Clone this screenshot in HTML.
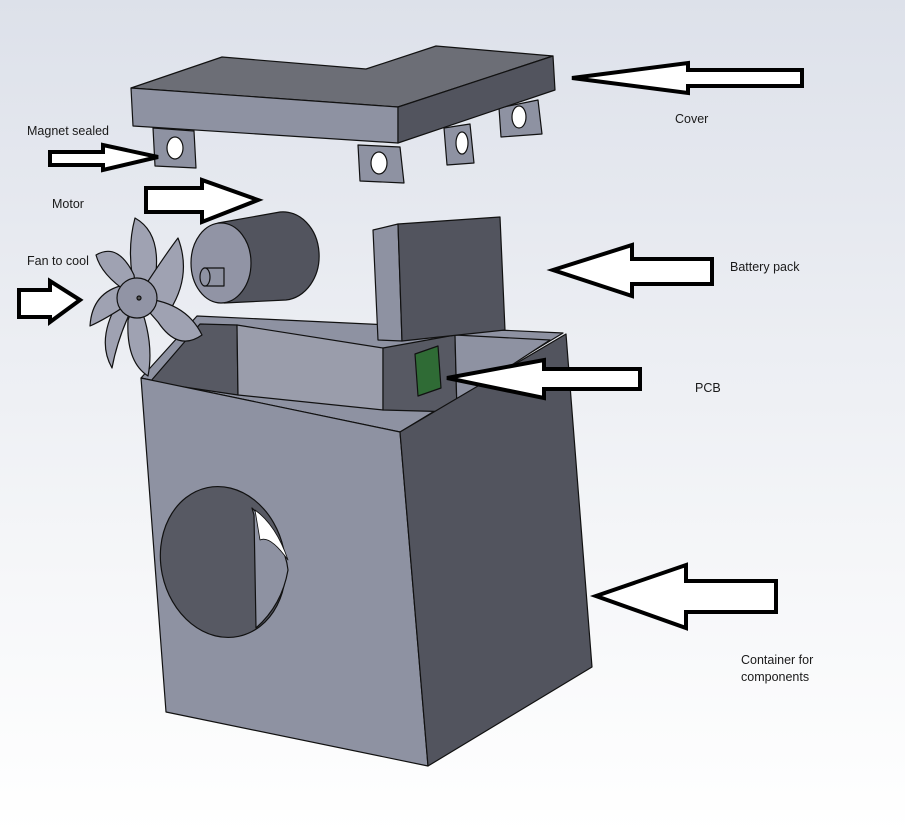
<!DOCTYPE html>
<html><head><meta charset="utf-8"><style>
html,body{margin:0;padding:0;width:905px;height:834px;overflow:hidden}
svg{display:block}
text{font-family:"Liberation Sans",sans-serif;font-size:12.5px;fill:#1a1a1a}
</style></head><body>
<svg width="905" height="834" viewBox="0 0 905 834" xmlns="http://www.w3.org/2000/svg">
<defs>
<linearGradient id="bg" x1="0" y1="0" x2="0" y2="1">
<stop offset="0" stop-color="#dde1ea"/><stop offset="0.7" stop-color="#f6f7f9"/><stop offset="1" stop-color="#ffffff"/>
</linearGradient>
</defs>
<rect width="905" height="834" fill="url(#bg)"/>
<g stroke="#111" stroke-width="1.2" stroke-linejoin="round">
<polygon points="153,128 194,131 196,168 155,166" fill="#8e92a2"/>
<ellipse cx="175" cy="148" rx="8" ry="11" fill="#fff"/>
<polygon points="358,145 400,147 404,183 360,181" fill="#8e92a2"/>
<ellipse cx="379" cy="163" rx="8" ry="11" fill="#fff"/>
<polygon points="444,128 470,124 474,163 447,165" fill="#8e92a2"/>
<ellipse cx="462" cy="143" rx="6" ry="11" fill="#fff"/>
<polygon points="499,108 538,100 542,134 501,137" fill="#8e92a2"/>
<ellipse cx="519" cy="117" rx="7" ry="11" fill="#fff"/>
<polygon points="131,88 222,57 366,69 436,46 553,56 398,107" fill="#6c6e76"/>
<polygon points="131,88 398,107 398,143 133,126" fill="#8e92a2"/>
<polygon points="398,107 553,56 555,90 398,143" fill="#52545e"/>
<polygon points="141,378 197,316 563,333 400,432" fill="#8e92a2"/>
<polygon points="150,382 200,324 237,325 238,395" fill="#575963"/>
<polygon points="237,325 383,348 383,410 238,395" fill="#9a9dab"/>
<polygon points="383,348 455,335 457,412 383,410" fill="#575963"/>
<polygon points="455,335 550,340 440,412 457,412" fill="#8e92a2"/>
<polygon points="415,354 438,346 441,388 418,396" fill="#2f6b35"/>
<polygon points="141,378 400,432 428,766 166,712" fill="#8e92a2"/>
<polygon points="400,432 566,334 592,667 428,766" fill="#52545e"/>
<ellipse cx="223" cy="562" rx="62" ry="76" transform="rotate(-12 223 562)" fill="#575963"/>
<path d="M252,508 Q285,540 288,570 Q282,605 256,628 L254,515 Z" fill="#8e92a2"/>
<path d="M255,510 Q276,525 288,560 Q270,535 260,540 Z" fill="#fff" stroke-width="0.8"/>
<polygon points="373,230 398,224 402,341 378,340" fill="#8e92a2"/>
<polygon points="398,224 500,217 505,330 402,341" fill="#52545e"/>
<path d="M218,223 L280,212 A36,44 0 0 1 286,300 L224,303 Z" fill="#52545e"/>
<ellipse cx="221" cy="263" rx="30" ry="40" fill="#9194a5"/>
<rect x="204" y="268" width="20" height="18" fill="#8e92a2"/>
<ellipse cx="205" cy="277" rx="5" ry="9" fill="#8e92a2"/>
<g fill="#9fa2b2">
<path d="M137,298 Q125,255 135,218 Q160,232 156,272 Z"/>
<path d="M137,298 Q165,255 178,238 Q192,275 170,310 Z"/>
<path d="M137,298 Q185,300 202,335 Q178,352 158,322 Z"/>
<path d="M137,298 Q155,340 148,376 Q126,362 128,320 Z"/>
<path d="M137,298 Q118,335 112,368 Q96,340 118,302 Z"/>
<path d="M137,298 Q108,318 90,326 Q92,292 124,285 Z"/>
<path d="M137,298 Q102,278 96,255 Q118,242 134,275 Z"/>
</g>
<circle cx="137" cy="298" r="20" fill="#9194a5"/>
<circle cx="139" cy="298" r="2" fill="#555"/>
</g>
<g fill="#fff" stroke="#000" stroke-width="4" stroke-linejoin="miter">
<polygon points="572,78 688,63 688,70 802,70 802,86 688,86 688,93"/>
<polygon points="158,157 103,145 103,152 50,152 50,165 103,165 103,170"/>
<polygon points="258,200 202,180 202,188 146,188 146,212 202,212 202,222"/>
<polygon points="80,300 50,281 50,290 19,290 19,317 50,317 50,322"/>
<polygon points="553,270 632,245 632,259 712,259 712,284 632,284 632,296"/>
<polygon points="447,378 544,360 544,369 640,369 640,389 544,389 544,398"/>
<polygon points="596,596 686,565 686,581 776,581 776,612 686,612 686,628"/>
</g>
<text x="27" y="135">Magnet sealed</text>
<text x="52" y="208">Motor</text>
<text x="27" y="265">Fan to cool</text>
<text x="675" y="123">Cover</text>
<text x="730" y="271">Battery pack</text>
<text x="695" y="392">PCB</text>
<text x="741" y="664">Container for</text>
<text x="741" y="681">components</text>
</svg>
</body></html>
